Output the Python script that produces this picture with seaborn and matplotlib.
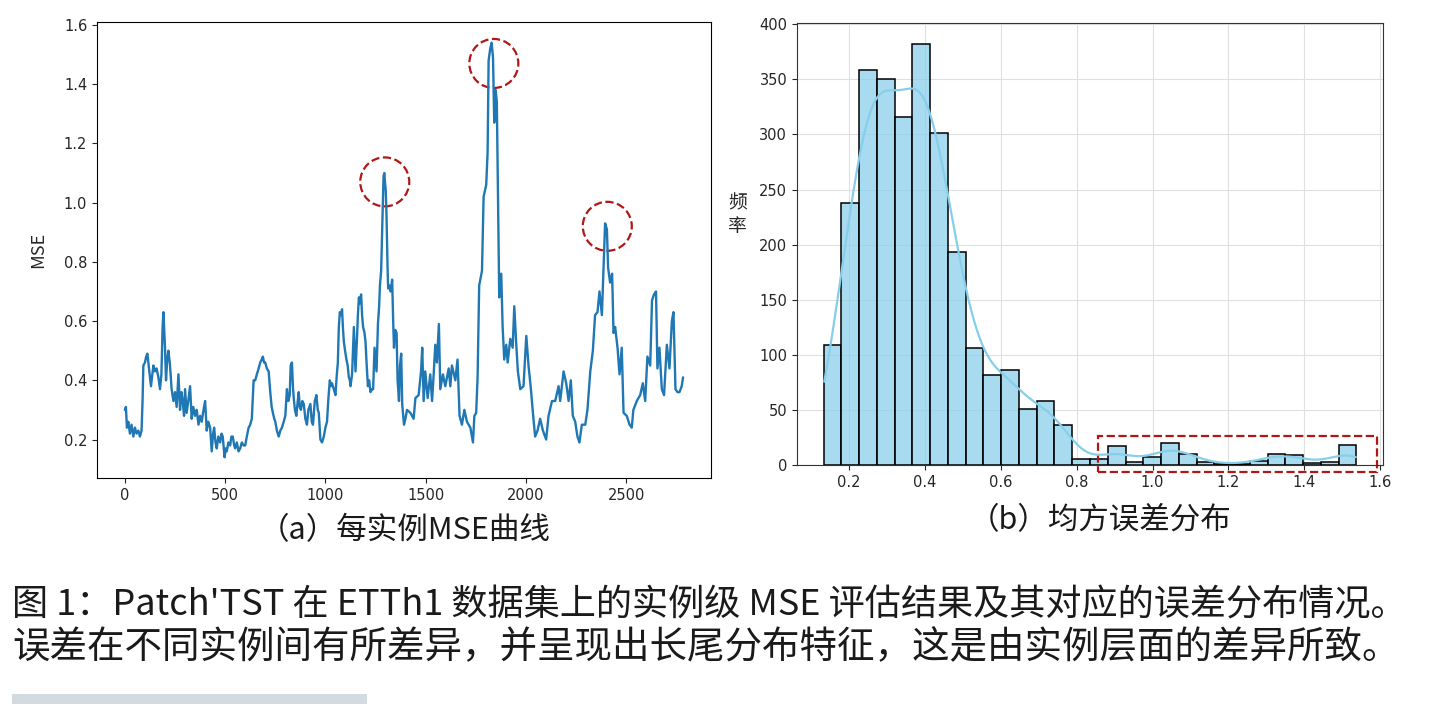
# Patch'TST on ETTh1: per-instance MSE curve (a) and its error distribution (b)
# Values.

import numpy as np
import matplotlib
matplotlib.use("Agg")
import matplotlib.pyplot as plt
from matplotlib.patches import Ellipse, Rectangle
import seaborn as sns

# --- data ---------------------------------------------------------------------

# (a) per-instance MSE, sampled along the test set
instance_idx = [
    0, 5, 10, 17, 25, 33, 42, 50, 58, 67, 75, 83, 88, 92, 100, 106, 112, 120,
    130, 142, 150, 158, 167, 175, 182, 188, 192, 197, 200, 205, 211, 217, 225,
    233, 242, 250, 258, 267, 275, 282, 288, 295, 300, 308, 316, 325, 333, 341,
    350, 358, 367, 375, 383, 392, 400, 408, 416, 425, 433, 440, 445, 452, 458,
    466, 475, 482, 488, 497, 503, 508, 516, 525, 531, 538, 545, 550, 558, 567,
    575, 583, 592, 600, 608, 617, 625, 633, 642, 650, 658, 667, 675, 682, 688,
    694, 700, 708, 717, 725, 732, 738, 745, 750, 758, 767, 775, 783, 792, 800,
    808, 815, 822, 827, 833, 838, 842, 848, 855, 862, 867, 872, 878, 885, 892,
    900, 908, 915, 925, 932, 938, 947, 955, 962, 967, 975, 983, 992, 1000,
    1008, 1015, 1022, 1028, 1033, 1042, 1050, 1057, 1062, 1067, 1072, 1078,
    1083, 1088, 1092, 1098, 1105, 1111, 1117, 1122, 1125, 1133, 1142, 1146,
    1150, 1158, 1162, 1167, 1172, 1178, 1183, 1188, 1195, 1200, 1206, 1212,
    1218, 1225, 1232, 1238, 1245, 1250, 1255, 1262, 1268, 1272, 1278, 1285,
    1290, 1294, 1297, 1301, 1305, 1310, 1313, 1320, 1325, 1333, 1338, 1342,
    1348, 1355, 1360, 1367, 1372, 1378, 1383, 1392, 1399, 1407, 1424, 1440,
    1449, 1465, 1477, 1483, 1490, 1498, 1510, 1523, 1532, 1540, 1548, 1556,
    1566, 1573, 1586, 1598, 1615, 1623, 1631, 1648, 1659, 1669, 1681, 1693,
    1706, 1723, 1736, 1743, 1752, 1759, 1767, 1781, 1789, 1802, 1809, 1814,
    1822, 1829, 1836, 1842, 1849, 1855, 1862, 1867, 1877, 1884, 1892, 1902,
    1909, 1922, 1934, 1942, 1952, 1960, 1972, 1988, 2002, 2013, 2025, 2035,
    2046, 2058, 2071, 2085, 2101, 2113, 2130, 2146, 2163, 2171, 2188, 2201,
    2213, 2224, 2234, 2246, 2257, 2267, 2279, 2296, 2307, 2321, 2334, 2345,
    2357, 2367, 2379, 2387, 2395, 2404, 2410, 2420, 2430, 2437, 2445, 2457,
    2467, 2478, 2487, 2503, 2517, 2528, 2536, 2553, 2570, 2583, 2595, 2606,
    2620, 2629, 2639, 2649, 2656, 2666, 2678, 2689, 2703, 2716, 2728, 2736,
    2746, 2756, 2766, 2777, 2784,
]
instance_mse = [
    0.30, 0.31, 0.24, 0.26, 0.22, 0.25, 0.21, 0.24, 0.22, 0.23, 0.21, 0.23,
    0.33, 0.45, 0.46, 0.48, 0.49, 0.44, 0.38, 0.45, 0.43, 0.44, 0.41, 0.37,
    0.42, 0.58, 0.63, 0.55, 0.51, 0.40, 0.47, 0.50, 0.45, 0.37, 0.33, 0.36,
    0.31, 0.42, 0.30, 0.36, 0.33, 0.28, 0.37, 0.29, 0.33, 0.38, 0.27, 0.31,
    0.28, 0.30, 0.25, 0.28, 0.26, 0.30, 0.33, 0.23, 0.26, 0.24, 0.16, 0.22,
    0.24, 0.19, 0.17, 0.21, 0.19, 0.22, 0.21, 0.14, 0.17, 0.16, 0.19, 0.18,
    0.21, 0.21, 0.18, 0.17, 0.19, 0.16, 0.17, 0.19, 0.18, 0.18, 0.21, 0.24,
    0.25, 0.27, 0.40, 0.40, 0.42, 0.44, 0.46, 0.47, 0.48, 0.46, 0.46, 0.44,
    0.43, 0.36, 0.31, 0.29, 0.27, 0.26, 0.23, 0.21, 0.23, 0.24, 0.26, 0.28,
    0.37, 0.33, 0.35, 0.45, 0.46, 0.38, 0.34, 0.30, 0.28, 0.33, 0.36, 0.31,
    0.30, 0.33, 0.32, 0.27, 0.25, 0.30, 0.32, 0.26, 0.25, 0.33, 0.35, 0.30,
    0.29, 0.20, 0.19, 0.21, 0.24, 0.26, 0.34, 0.40, 0.38, 0.39, 0.37, 0.35,
    0.42, 0.46, 0.58, 0.63, 0.62, 0.64, 0.57, 0.53, 0.50, 0.47, 0.45, 0.41,
    0.40, 0.38, 0.42, 0.58, 0.50, 0.43, 0.55, 0.62, 0.68, 0.66, 0.69, 0.62,
    0.58, 0.56, 0.53, 0.45, 0.38, 0.40, 0.36, 0.37, 0.37, 0.51, 0.47, 0.43,
    0.59, 0.65, 0.72, 0.77, 0.95, 1.09, 1.10, 1.07, 1.04, 0.95, 0.78, 0.71,
    0.72, 0.70, 0.74, 0.60, 0.51, 0.57, 0.56, 0.40, 0.33, 0.45, 0.49, 0.32,
    0.25, 0.27, 0.30, 0.29, 0.27, 0.34, 0.35, 0.43, 0.51, 0.33, 0.43, 0.34,
    0.42, 0.33, 0.42, 0.52, 0.46, 0.59, 0.37, 0.42, 0.38, 0.44, 0.38, 0.45,
    0.40, 0.47, 0.28, 0.25, 0.30, 0.26, 0.24, 0.19, 0.28, 0.29, 0.41, 0.72,
    0.77, 1.02, 1.06, 1.17, 1.48, 1.52, 1.54, 1.49, 1.27, 1.38, 1.34, 0.97,
    0.68, 0.76, 0.58, 0.47, 0.52, 0.46, 0.54, 0.51, 0.65, 0.52, 0.43, 0.37,
    0.38, 0.55, 0.45, 0.37, 0.29, 0.21, 0.23, 0.27, 0.23, 0.20, 0.28, 0.33,
    0.33, 0.38, 0.33, 0.43, 0.39, 0.33, 0.40, 0.28, 0.26, 0.21, 0.19, 0.25,
    0.25, 0.30, 0.43, 0.50, 0.62, 0.63, 0.70, 0.62, 0.78, 0.93, 0.91, 0.78,
    0.73, 0.76, 0.56, 0.58, 0.51, 0.42, 0.51, 0.29, 0.28, 0.25, 0.24, 0.30,
    0.33, 0.35, 0.39, 0.33, 0.48, 0.45, 0.67, 0.69, 0.70, 0.44, 0.51, 0.37,
    0.35, 0.52, 0.44, 0.60, 0.63, 0.37, 0.36, 0.36, 0.38, 0.41,
]

# circled peaks in (a)
peak_idx = [1296, 1840, 2406]
peak_mse = [1.07, 1.47, 0.92]

# (b) histogram of the same MSE values: 30 equal bins
bin_lo, bin_hi = 0.1334, 1.537
bin_counts = [
    109, 238, 358, 350, 316, 382, 301, 193, 106, 82, 86, 51, 58, 36, 5,
    5, 17, 3, 7, 20, 10, 3, 1, 1, 4, 10, 9, 2, 3, 18,
]
# dashed box around the long tail (x from, x to, y from, y to)
tail_box = (0.855, 1.592, -6.7, 26.5)

caption_a = "（a）每实例MSE曲线"
caption_b = "（b）均方误差分布"
fig_caption = [
    "图 1：Patch'TST 在 ETTh1 数据集上的实例级 MSE 评估结果及其对应的误差分布情况。",
    "误差在不同实例间有所差异，并呈现出长尾分布特征，这是由实例层面的差异所致。",
]

# --- figure -------------------------------------------------------------------

sns.set_style("ticks")
plt.rcParams["font.family"] = ["DejaVu Sans", "Noto Sans CJK SC"]
plt.rcParams["axes.edgecolor"] = "black"
cjk = ["Noto Sans CJK SC", "DejaVu Sans"]
ring_red = "#b01818"
ink = "#1a1a1a"

W, H = 1430, 704
fig = plt.figure(figsize=(W / 100, H / 100), dpi=100)
ax1 = fig.add_axes([97 / W, 1 - 478 / H, 614 / W, 456 / H])
ax2 = fig.add_axes([797 / W, 1 - 465 / H, 586 / W, 442 / H])

# (a) MSE curve
sns.lineplot(x=instance_idx, y=instance_mse, ax=ax1, color="#1f77b4", linewidth=1.7)
ax1.set_xticks(range(0, 3000, 500))
ax1.set_yticks(np.arange(0.2, 1.61, 0.2))
ax1.tick_params(labelsize=10.5)
ax1.set_ylabel("MSE", family=cjk, fontsize=13, va="center")
ax1.yaxis.set_label_coords(-0.096, 0.5)
ax1.set_xlim(ax1.get_xlim())
ax1.set_ylim(ax1.get_ylim())

# keep the rings round on screen
x0, x1 = ax1.get_xlim()
y0, y1 = ax1.get_ylim()
box = ax1.get_window_extent()
r_px = 24.5
for cx, cy in zip(peak_idx, peak_mse):
    ax1.add_patch(Ellipse(
        (cx, cy),
        width=2 * r_px / box.width * (x1 - x0),
        height=2 * r_px / box.height * (y1 - y0),
        fill=False, edgecolor=ring_red, linestyle="--", linewidth=1.6,
    ))

# (b) histogram + KDE
edges = np.linspace(bin_lo, bin_hi, len(bin_counts) + 1)
centers = (edges[:-1] + edges[1:]) / 2
values = np.repeat(centers, bin_counts)
sns.histplot(
    x=values, bins=edges, kde=True, ax=ax2,
    color="skyblue", alpha=0.72, edgecolor="black", linewidth=1.1,
    kde_kws=dict(cut=0.5), line_kws=dict(linewidth=1.6),
)
ax2.set_axisbelow(True)
ax2.grid(True, color="#e0e0e0", linewidth=0.8)
ax2.set_xticks(np.arange(0.2, 1.61, 0.2))
ax2.set_yticks(range(0, 401, 50))
ax2.tick_params(labelsize=10.5)
for side in ax2.spines.values():
    side.set_color("#333333")
ax2.set_ylabel("频\n率", family=cjk, fontsize=13.5, rotation=0,
               ha="center", va="center", linespacing=1.2)
ax2.yaxis.set_label_coords(-0.102, 0.566)
ax2.set_xlim(ax2.get_xlim())
ax2.set_ylim(ax2.get_ylim())
ax2.add_patch(Rectangle(
    (tail_box[0], tail_box[2]), tail_box[1] - tail_box[0], tail_box[3] - tail_box[2],
    fill=False, edgecolor=ring_red, linestyle="--", linewidth=1.6, clip_on=False,
))

# sub-captions and figure caption
fig.text(405 / W, 1 - 531 / H, caption_a, family=cjk, fontsize=22,
         ha="center", va="center", color=ink)
fig.text(1100 / W, 1 - 521 / H, caption_b, family=cjk, fontsize=22,
         ha="center", va="center", color=ink)
for line, y, size in zip(fig_caption, [605, 648], [26, 27]):
    fig.text(12 / W, 1 - y / H, line, family=cjk, fontsize=size,
             ha="left", va="center", color=ink)

# top edge of the next figure, cut off in the screenshot
fig.add_artist(Rectangle((12 / W, 0), 355 / W, 10 / H, transform=fig.transFigure,
                         facecolor="#9fb1bd", edgecolor="none", alpha=0.45))

fig.savefig("out.png", dpi=100)
